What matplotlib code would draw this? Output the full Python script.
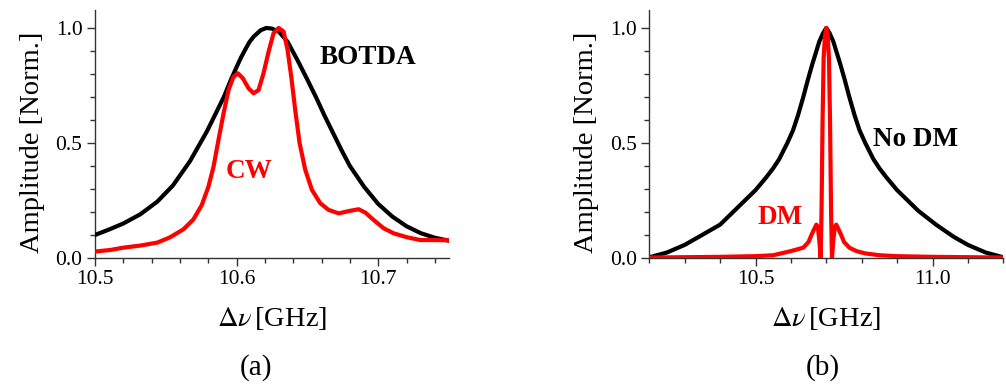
import matplotlib
matplotlib.use("Agg")
import matplotlib.pyplot as plt
from matplotlib.ticker import MultipleLocator, FormatStrFormatter

# ---------------- data ----------------
# Panel (a): BOTDA gain spectrum (black) and CW spectrum (red)
botda_x = [10.500, 10.510, 10.520, 10.532, 10.544, 10.555, 10.567, 10.579, 10.585,
           10.591, 10.596, 10.600, 10.603, 10.606, 10.609, 10.612, 10.617, 10.621,
           10.625, 10.630, 10.636, 10.643, 10.650, 10.656, 10.662, 10.668, 10.674,
           10.680, 10.690, 10.700, 10.710, 10.720, 10.730, 10.740, 10.750]
botda_y = [0.100, 0.124, 0.150, 0.190, 0.245, 0.315, 0.420, 0.550, 0.625,
           0.700, 0.775, 0.830, 0.870, 0.905, 0.938, 0.962, 0.990, 1.000,
           0.997, 0.983, 0.940, 0.860, 0.775, 0.700, 0.620, 0.545, 0.470,
           0.400, 0.310, 0.235, 0.180, 0.138, 0.108, 0.088, 0.075]

cw_x = [10.500, 10.511, 10.520, 10.532, 10.544, 10.553, 10.5625, 10.5695, 10.5754,
        10.5801, 10.5837, 10.5872, 10.5908, 10.5943, 10.5978, 10.6009, 10.6044,
        10.6084, 10.612, 10.6155, 10.619, 10.6226, 10.6261, 10.6297, 10.6332,
        10.636, 10.6386, 10.6414, 10.6445, 10.6485, 10.6532, 10.6591, 10.665,
        10.6721, 10.6792, 10.6862, 10.691, 10.6968, 10.7039, 10.711, 10.7204,
        10.7298, 10.7393, 10.750]
cw_y = [0.028, 0.035, 0.045, 0.054, 0.067, 0.090, 0.125, 0.168, 0.230,
        0.310, 0.397, 0.513, 0.629, 0.730, 0.788, 0.803, 0.781,
        0.738, 0.716, 0.730, 0.803, 0.897, 0.977, 1.000, 0.984,
        0.904, 0.788, 0.643, 0.499, 0.383, 0.296, 0.238, 0.209,
        0.194, 0.204, 0.212, 0.197, 0.165, 0.129, 0.107, 0.090,
        0.078, 0.078, 0.077]

# Panel (b): without (black) and with (red) direct modulation
nodm_x = [10.200, 10.250, 10.300, 10.340, 10.400, 10.440, 10.480, 10.500, 10.530,
          10.550, 10.567, 10.590, 10.606, 10.620, 10.635, 10.648, 10.660, 10.670,
          10.680, 10.690, 10.700, 10.710, 10.720, 10.730, 10.740, 10.752, 10.765,
          10.780, 10.794, 10.810, 10.833, 10.850, 10.870, 10.900, 10.920, 10.960,
          11.010, 11.060, 11.100, 11.150, 11.200]
nodm_y = [0.003, 0.024, 0.057, 0.092, 0.145, 0.205, 0.265, 0.295, 0.350,
          0.390, 0.430, 0.500, 0.555, 0.620, 0.700, 0.775, 0.840, 0.890,
          0.940, 0.975, 1.000, 0.975, 0.940, 0.890, 0.840, 0.775, 0.700,
          0.620, 0.555, 0.500, 0.430, 0.390, 0.350, 0.295, 0.265, 0.205,
          0.145, 0.092, 0.057, 0.024, 0.003]

dm_x = [10.200, 10.400, 10.500, 10.550, 10.600, 10.635, 10.650, 10.658, 10.667,
        10.672, 10.676, 10.680, 10.684, 10.6865, 10.6895, 10.6925, 10.696, 10.700,
        10.704, 10.7075, 10.7105, 10.7135, 10.716, 10.720, 10.724, 10.728, 10.733,
        10.742, 10.750, 10.765, 10.785, 10.810, 10.850, 10.900, 11.000, 11.200]
dm_y = [0.002, 0.005, 0.008, 0.012, 0.030, 0.045, 0.070, 0.100, 0.130,
        0.145, 0.135, 0.080, 0.000, 0.200, 0.600, 0.870, 0.960, 1.000,
        0.960, 0.870, 0.600, 0.200, 0.000, 0.080, 0.135, 0.145, 0.130,
        0.100, 0.070, 0.045, 0.030, 0.020, 0.012, 0.008, 0.005, 0.002]

xticks_a = [10.5, 10.6, 10.7]
xticks_b = [10.5, 11.0]
yticks = [0.0, 0.5, 1.0]

# ---------------- figure ----------------
plt.rcParams['font.family'] = ['Liberation Serif', 'DejaVu Serif']
plt.rcParams['mathtext.fontset'] = 'stix'

W, H = 1006, 389
fig = plt.figure(figsize=(W / 100, H / 100), dpi=100)

def px_axes(l, r, t, b):
    return fig.add_axes([l / W, (H - b) / H, (r - l) / W, (b - t) / H])

ax1 = px_axes(95, 449, 10, 258)
ax2 = px_axes(649.3, 1003.3, 10, 258)

RED = '#ff0000'
LW = 3.0

ax1.plot(botda_x, botda_y, color='black', lw=LW, solid_joinstyle='round', zorder=3)
ax1.plot(cw_x, cw_y, color=RED, lw=LW, solid_joinstyle='round', zorder=4)
ax2.plot(nodm_x, nodm_y, color='black', lw=LW, solid_joinstyle='round', zorder=3)
ax2.plot(dm_x, dm_y, color=RED, lw=LW, solid_joinstyle='round', zorder=4)

ax1.set_xlim(10.5, 10.75)
ax2.set_xlim(10.2, 11.2)
for ax in (ax1, ax2):
    ax.set_ylim(0, 1.078)
    ax.set_yticks(yticks)
    ax.yaxis.set_major_formatter(FormatStrFormatter('%.1f'))
    ax.yaxis.set_minor_locator(MultipleLocator(0.1))
    for s in ('top', 'right'):
        ax.spines[s].set_visible(False)
    for s in ('left', 'bottom'):
        ax.spines[s].set_linewidth(1.0)
        ax.spines[s].set_color('#333333')
    ax.tick_params(which='major', direction='out', length=6, width=1.0,
                   color='#333333', labelsize=15.5, pad=3)
    ax.tick_params(which='minor', direction='out', length=3.5, width=1.0,
                   color='#333333')
    ax.set_ylabel('Amplitude [Norm.]', fontsize=20.5)
    ax.yaxis.set_label_coords(-0.176, 0.465)
    ax.yaxis.label.set_va('center')
    ax.set_xlabel(r'$\Delta\nu\,$[GHz]', fontsize=20.5)
    ax.xaxis.set_label_coords(0.5, -0.19)
    ax.xaxis.label.set_va('top')
    ax.patch.set_visible(False)

ax1.set_xticks(xticks_a)
ax1.xaxis.set_major_formatter(FormatStrFormatter('%.1f'))
ax1.xaxis.set_minor_locator(MultipleLocator(0.02))
ax2.set_xticks(xticks_b)
ax2.xaxis.set_major_formatter(FormatStrFormatter('%.1f'))
ax2.xaxis.set_minor_locator(MultipleLocator(0.1))

ax1.text(10.693, 0.87, 'BOTDA', fontsize=19.5, fontweight='bold',
         color='black', ha='center', va='center')
ax1.text(10.609, 0.376, 'CW', fontsize=19.5, fontweight='bold',
         color=RED, ha='center', va='center')
ax2.text(10.952, 0.517, 'No DM', fontsize=19.5, fontweight='bold',
         color='black', ha='center', va='center')
ax2.text(10.57, 0.176, 'DM', fontsize=19.5, fontweight='bold',
         color=RED, ha='center', va='center')

fig.text(256 / W, 1 - 368 / H, '(a)', fontsize=21, ha='center', va='center')
fig.text(823 / W, 1 - 368 / H, '(b)', fontsize=21, ha='center', va='center')

fig.savefig('out.png', dpi=100)
